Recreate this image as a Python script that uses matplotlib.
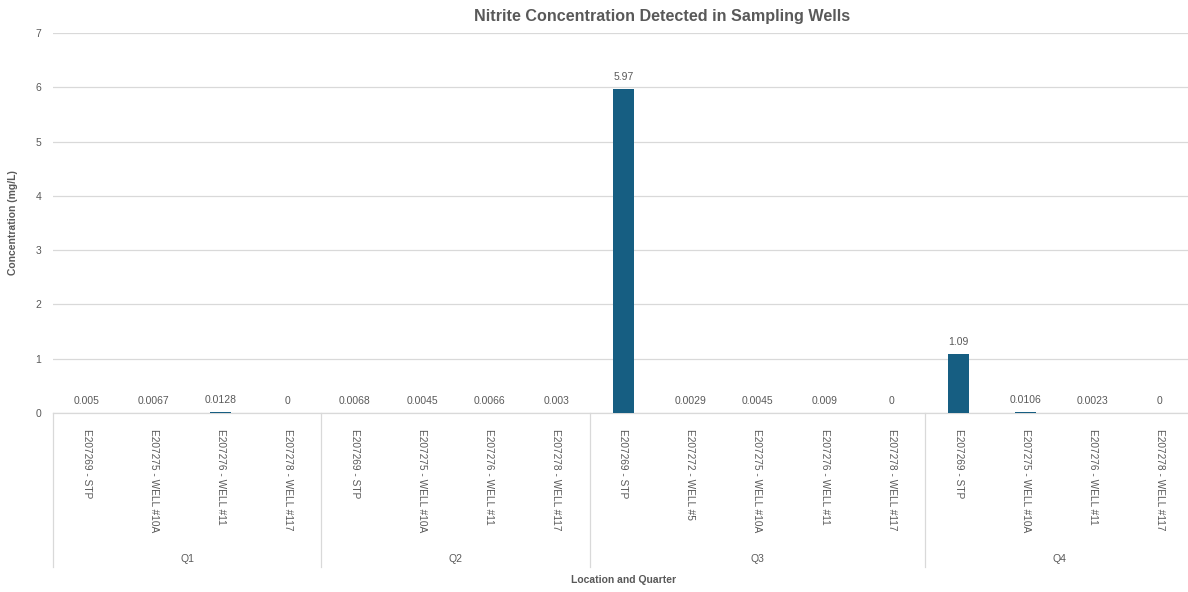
import matplotlib
matplotlib.use('Agg')
from matplotlib import pyplot as plt
from matplotlib import transforms
import numpy as np

#####

quarters = ['Q1', 'Q2', 'Q3', 'Q4']
locations = {
    'Q1': ['E207269 - STP', 'E207275 - WELL #10A', 'E207276 - WELL #11', 'E207278 - WELL #117'],
    'Q2': ['E207269 - STP', 'E207275 - WELL #10A', 'E207276 - WELL #11', 'E207278 - WELL #117'],
    'Q3': ['E207269 - STP', 'E207272 - WELL #5', 'E207275 - WELL #10A', 'E207276 - WELL #11', 'E207278 - WELL #117'],
    'Q4': ['E207269 - STP', 'E207275 - WELL #10A', 'E207276 - WELL #11', 'E207278 - WELL #117'],
}
values = {
    'Q1': [0.005, 0.0067, 0.0128, 0],
    'Q2': [0.0068, 0.0045, 0.0066, 0.003],
    'Q3': [5.97, 0.0029, 0.0045, 0.009, 0],
    'Q4': [1.09, 0.0106, 0.0023, 0],
}
value_labels = {
    'Q1': ['0.005', '0.0067', '0.0128', '0'],
    'Q2': ['0.0068', '0.0045', '0.0066', '0.003'],
    'Q3': ['5.97', '0.0029', '0.0045', '0.009', '0'],
    'Q4': ['1.09', '0.0106', '0.0023', '0'],
}

#####

txtc = '#595959'
gridc = '#d9d9d9'
barc = '#165e82'
fam = ['Liberation Sans', 'DejaVu Sans']
plt.rcParams['font.family'] = fam

W, H = 1188, 592
fig = plt.figure(figsize=(W/100., H/100.), dpi=100)

x0, x1 = 53, 1193.5
ytop, ybot = 33, 413
ax = fig.add_axes([x0/W, 1-ybot/H, (x1-x0)/W, (ybot-ytop)/H])

labels = []
vals = []
vlabs = []
bounds = [-0.5]
centers = []
for q in quarters:
    start = len(labels)
    labels += locations[q]
    vals += values[q]
    vlabs += value_labels[q]
    centers.append((start + len(labels) - 1) / 2.)
    bounds.append(len(labels) - 0.5)

xx = np.arange(len(labels))
bars = ax.bar(xx, vals, width=0.31, color=barc, zorder=3)

for b, lab in zip(bars, vlabs):
    ax.annotate(lab, (b.get_x() + b.get_width()/2., b.get_height()),
                xytext=(0, 5), textcoords='offset points', ha='center', va='bottom',
                fontsize=7.5, color=txtc)

ax.set_xlim(-0.5, len(labels) - 0.5)
ax.set_ylim(0, 7)
ax.set_yticks(range(0, 8))
ax.yaxis.grid(True, color=gridc, linewidth=0.9, zorder=0)
ax.tick_params(axis='y', length=0, pad=8.5, labelsize=7.5, labelcolor=txtc)
for s in ['top', 'right', 'left']:
    ax.spines[s].set_visible(False)
ax.spines['bottom'].set_color(gridc)
ax.spines['bottom'].set_linewidth(0.9)

ax.set_xticks(xx)
ax.set_xticklabels(labels, rotation=-90, ha='center', va='top', fontsize=7.3, color=txtc)
ax.tick_params(axis='x', length=0, pad=11.7)

# group separators and quarter labels
trans = transforms.blended_transform_factory(ax.transData, ax.transAxes)
sep_depth = -(567 - ybot) / float(ybot - ytop)
for bx in bounds[:-1]:
    ax.plot([bx, bx], [0, sep_depth], color=gridc, linewidth=0.9, transform=trans, clip_on=False)
qy = -(559 - ybot) / float(ybot - ytop)
for c, q in zip(centers, quarters):
    ax.text(c, qy, q, transform=trans, ha='center', va='center', fontsize=7.5, color=txtc)

fig.text(13. / W, 1 - (ytop + ybot) / 2. / H, 'Concentration (mg/L)', rotation=90, ha='center', va='center',
         fontsize=7.5, fontweight='bold', color=txtc)
fig.text((x0 + x1) / 2. / W, 1 - 580. / H, 'Location and Quarter', ha='center', va='center',
         fontsize=7.5, fontweight='bold', color=txtc)

fig.text(662. / W, 1 - 16. / H, 'Nitrite Concentration Detected in Sampling Wells', ha='center', va='center',
         fontsize=11.6, fontweight='bold', color=txtc)

fig.savefig('out.png', dpi=100)
